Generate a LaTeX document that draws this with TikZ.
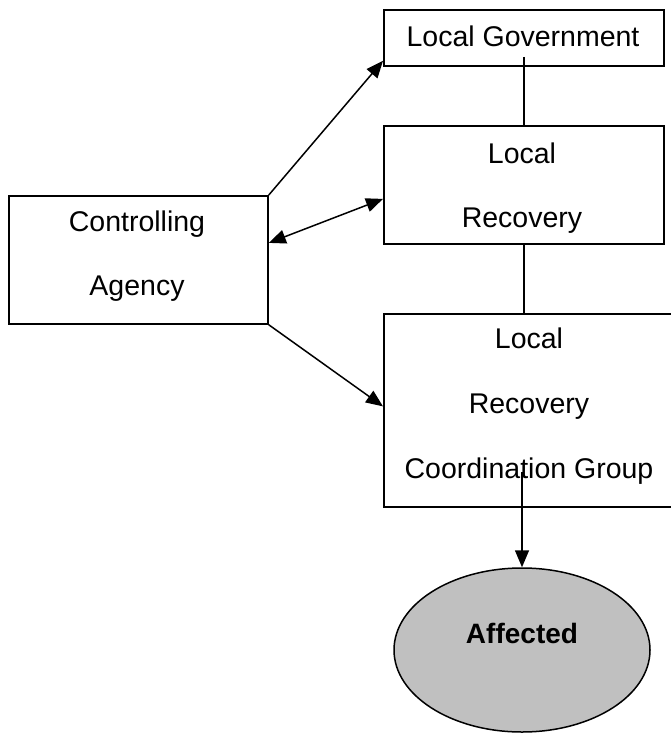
\documentclass[tikz,border=0pt]{standalone}
\usepackage{fontspec}
\setmainfont{Liberation Sans}
\usetikzlibrary{arrows.meta,calc,shapes.geometric}
\definecolor{fillgray}{RGB}{192,192,192}
\begin{document}
\begin{tikzpicture}[x=1pt,y=-1pt,
  >={Triangle[length=17pt,width=14pt]},
  box/.style={draw, line width=1.8pt, rectangle, inner sep=0pt, anchor=north west},
  lbl/.style={font=\fontsize{28.5}{34}\selectfont, inner sep=0pt, anchor=base},
  conn/.style={line width=1.5pt},
]
\useasboundingbox (0,0) rectangle (671,733);
\begin{scope}
\clip (0,0) rectangle (671,733);
% boxes
\node[box, minimum width=280pt, minimum height=56pt] (lg) at (383,9) {};
\node[box, minimum width=280pt, minimum height=118pt] (lr) at (383,125) {};
\node[box, minimum width=259pt, minimum height=128pt] (ca) at (8,195) {};
\node[box, minimum width=292pt, minimum height=193pt] (lrcg) at (383,313) {};
\node[draw, ellipse, line width=1.5pt, fill=fillgray, inner sep=0pt,
      minimum width=256pt, minimum height=164pt] (af) at (522,650) {};
% texts
\node[lbl] (lgt) at (523,47) {Local Government};
\node[lbl] (cat1) at (137,231) {Controlling};
\node[lbl] (cat2) at (137,295) {Agency};
\node[lbl] (lrt1) at (522,163) {Local};
\node[lbl] (lrt2) at (522,227) {Recovery};
\node[lbl] (lct1) at (529,348) {Local};
\node[lbl] (lct2) at (529,413) {Recovery};
\node[lbl] (lct3) at (529,478) {Coordination Group};
\node[lbl, font=\fontsize{28}{34}\selectfont\bfseries] (aft) at (522,643) {Affected};
% connectors
\draw[conn, ->] (ca.north east) -- ([yshift=6pt]lg.south west);
\draw[conn, <->] ([yshift=17pt]ca.east) -- ([yshift=-14pt]lr.west);
\draw[conn, ->] (ca.south east) -- ([yshift=4pt]lrcg.west);
\draw[conn] ([yshift=10pt]lg.south) -- (lr.north);
\draw[conn] (lr.south) -- (lr.south |- lrcg.north);
\draw[conn, ->] ([yshift=36pt]lrcg.south -| af.north) -- (af.north);
\end{scope}
\end{tikzpicture}
\end{document}
